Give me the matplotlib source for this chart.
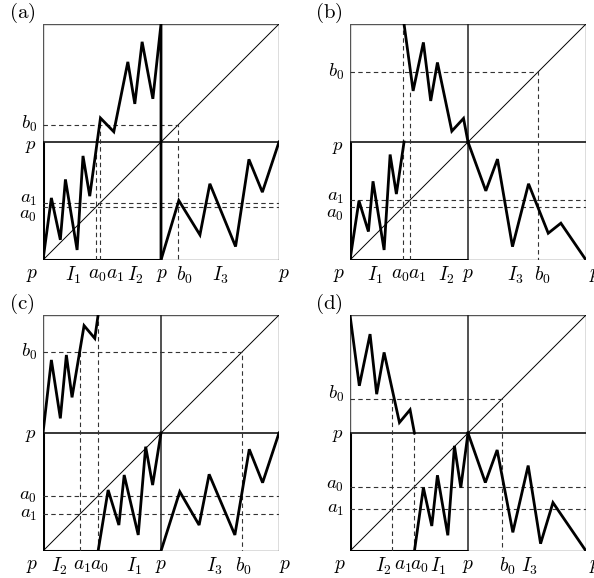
import matplotlib.pyplot as plt

plt.rcParams['mathtext.fontset'] = 'cm'
plt.rcParams['font.family'] = 'serif'
plt.rcParams['font.serif'] = ['DejaVu Serif']

# ---- panel (a) ----
a_x1 = [0, 0.071, 0.147, 0.190, 0.289, 0.339, 0.396, 0.487, 0.600, 0.719, 0.778, 0.840, 0.931, 1.0, 1.0]
a_y1 = [0, 0.526, 0.171, 0.683, 0.085, 0.882, 0.541, 1.203, 1.087, 1.679, 1.323, 1.849, 1.366, 2.0, 0.0]
a_x2 = [1.0, 1.151, 1.330, 1.414, 1.632, 1.745, 1.859, 2.0]
a_y2 = [0, 0.504, 0.213, 0.646, 0.114, 0.853, 0.575, 1.0]
a_a0, a_a1, a_b0 = 0.452, 0.485, 1.147
a_tops = [1.03, 1.18]          # where the a0 / a1 verticals stop
a_xlabels = ['$p$', '$I_1$', '$a_0$', '$a_1$', '$I_2$', '$p$', '$b_0$', '$I_3$', '$p$']
a_xlabpos = [-0.09, 0.26, 0.457, 0.61, 0.78, 1.01, 1.2, 1.5, 2.04]
a_ylabels = ['$b_0$', '$p$', '$a_1$', '$a_0$']
a_ylabpos = [1.15, 0.97, 0.52, 0.38]

# ---- panel (b) ----
b_x1 = [0, 0.076, 0.156, 0.195, 0.289, 0.340, 0.393, 0.458]
b_y1 = [0, 0.502, 0.241, 0.667, 0.085, 0.894, 0.559, 1.0]
b_x2 = [0.458, 0.535, 0.622, 0.684, 0.741, 0.863, 0.962, 1.0]
b_y2 = [2.0, 1.433, 1.844, 1.348, 1.674, 1.092, 1.2, 1.0]
b_x3 = [1.0, 1.151, 1.250, 1.377, 1.513, 1.680, 1.787, 2.0]
b_y3 = [1.0, 0.586, 0.855, 0.113, 0.646, 0.227, 0.312, 0]
b_a0, b_a1, b_b0 = 0.452, 0.505, 1.594
b_tops = [2.0, 1.43]
b_xlabels = ['$p$', '$I_1$', '$a_0$', '$a_1$', '$I_2$', '$p$', '$I_3$', '$b_0$', '$p$']
b_xlabpos = [-0.09, 0.21, 0.43, 0.57, 0.82, 1.0, 1.40, 1.63, 2.08]
b_ylabels = ['$b_0$', '$p$', '$a_1$', '$a_0$']
b_ylabpos = [1.59, 0.96, 0.53, 0.39]

# ---- panel (c) ----
c_x1 = [0, 0.071, 0.147, 0.198, 0.246, 0.348, 0.439, 0.467]
c_y1 = [1.0, 1.619, 1.124, 1.661, 1.302, 1.910, 1.802, 2.0]
c_x2 = [0.467, 0.552, 0.643, 0.688, 0.807, 0.870, 0.929, 1.0]
c_y2 = [0, 0.517, 0.220, 0.644, 0.136, 0.884, 0.559, 1.0]
c_x3 = [1.0, 1.159, 1.323, 1.408, 1.626, 1.748, 1.861, 2.0]
c_y3 = [0, 0.503, 0.220, 0.650, 0.136, 0.862, 0.579, 1.0]
c_a0, c_a1, c_b0 = 0.467, 0.311, 1.689
c_tops = [2.0, 1.689]
c_xlabels = ['$p$', '$I_2$', '$a_1$', '$a_0$', '$I_1$', '$p$', '$I_3$', '$b_0$', '$p$']
c_xlabpos = [-0.09, 0.14, 0.33, 0.48, 0.77, 1.0, 1.45, 1.70, 2.05]
c_ylabels = ['$b_0$', '$p$', '$a_0$', '$a_1$']
c_ylabpos = [1.69, 0.98, 0.466, 0.31]

# ---- panel (d) ----
d_x1 = [0, 0.079, 0.170, 0.226, 0.289, 0.419, 0.509, 0.546]
d_y1 = [2.0, 1.400, 1.838, 1.329, 1.683, 1.089, 1.197, 1.0]
d_x2 = [0.546, 0.622, 0.693, 0.741, 0.829, 0.885, 0.939, 1.0]
d_y2 = [0, 0.537, 0.212, 0.642, 0.133, 0.891, 0.537, 1.0]
d_x3 = [1.0, 1.147, 1.247, 1.380, 1.510, 1.615, 1.720, 2.0]
d_y3 = [1.0, 0.580, 0.856, 0.158, 0.724, 0.062, 0.410, 0]
d_a0, d_a1, d_b0 = 0.545, 0.359, 1.287
d_tops = [1.0, 1.287]
d_xlabels = ['$p$', '$I_2$', '$a_1$', '$a_0$', '$I_1$', '$p$', '$b_0$', '$I_3$', '$p$']
d_xlabpos = [-0.085, 0.28, 0.45, 0.59, 0.75, 1.0, 1.33, 1.52, 2.08]
d_ylabels = ['$b_0$', '$p$', '$a_0$', '$a_1$']
d_ylabpos = [1.33, 0.98, 0.56, 0.36]


def draw_panel(ax, tag, branches, a0, a1, b0, tops, xlabels, xlabpos, ylabels, ylabpos):
    ax.set_xlim(0, 2)
    ax.set_ylim(0, 2)
    ax.axis('off')
    dash = dict(color='#333333', lw=0.8, ls=(0, (4, 3)))
    # outer box and grid
    ax.plot([0, 2, 2, 0, 0], [0, 0, 2, 2, 0], color='#555555', lw=1.0)
    ax.plot([0, 2], [1, 1], color='black', lw=1.1)
    ax.plot([1, 1], [0, 2], color='#222222', lw=1.1)
    ax.plot([0, 2], [0, 2], color='black', lw=0.7)
    ax.plot([0, 0, 1], [1, 0, 0], color='black', lw=2.2, solid_capstyle='butt')
    # dashed guides
    ax.plot([0, 2], [a0, a0], **dash)
    ax.plot([0, 2], [a1, a1], **dash)
    ax.plot([0, b0, b0], [b0, b0, 0], **dash)
    ax.plot([a0, a0], [0, tops[0]], **dash)
    ax.plot([a1, a1], [0, tops[1]], **dash)
    # graph
    for bx, by in branches:
        ax.plot(bx, by, color='black', lw=2.0, solid_joinstyle='miter')
    for lab, xp in zip(xlabels, xlabpos):
        ax.text(xp, -0.13, lab, ha='center', va='center', fontsize=14, clip_on=False)
    for lab, yp in zip(ylabels, ylabpos):
        ax.text(-0.05, yp, lab, ha='right', va='center', fontsize=13.5, clip_on=False)
    ax.text(-0.18, 2.09, tag, ha='center', va='center', fontsize=15, clip_on=False)


fig = plt.figure(figsize=(5.94, 5.78), dpi=100)
W, H = 594, 578
pos = {'a': (43, 24), 'b': (350, 24), 'c': (43, 315), 'd': (350, 315)}
side = 236
axs = {}
for k, (px, py) in pos.items():
    axs[k] = fig.add_axes([px / W, 1 - (py + side) / H, side / W, side / H])

draw_panel(axs['a'], r'$\mathrm{(a)}$', [(a_x1, a_y1), (a_x2, a_y2)], a_a0, a_a1, a_b0, a_tops,
           a_xlabels, a_xlabpos, a_ylabels, a_ylabpos)
draw_panel(axs['b'], r'$\mathrm{(b)}$', [(b_x1, b_y1), (b_x2, b_y2), (b_x3, b_y3)], b_a0, b_a1, b_b0, b_tops,
           b_xlabels, b_xlabpos, b_ylabels, b_ylabpos)
draw_panel(axs['c'], r'$\mathrm{(c)}$', [(c_x1, c_y1), (c_x2, c_y2), (c_x3, c_y3)], c_a0, c_a1, c_b0, c_tops,
           c_xlabels, c_xlabpos, c_ylabels, c_ylabpos)
draw_panel(axs['d'], r'$\mathrm{(d)}$', [(d_x1, d_y1), (d_x2, d_y2), (d_x3, d_y3)], d_a0, d_a1, d_b0, d_tops,
           d_xlabels, d_xlabpos, d_ylabels, d_ylabpos)

fig.savefig('out.png', dpi=100)
